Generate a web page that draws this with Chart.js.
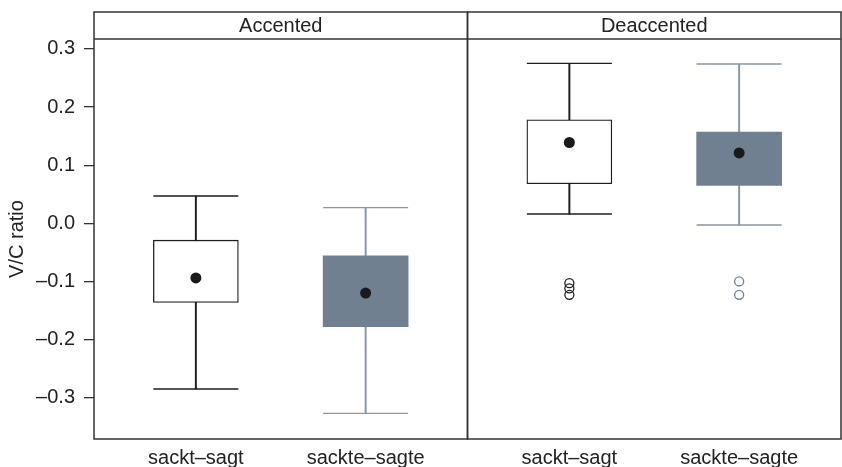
<!DOCTYPE html>
<html>
<head>
<meta charset="utf-8">
<script src="https://cdn.jsdelivr.net/npm/chart.js@4.4.1/dist/chart.umd.min.js"></script>
<style>
  html, body { margin: 0; padding: 0; background: #fff; overflow: hidden; }
  canvas { display: block; }
</style>
</head>
<body>
<canvas id="chart" width="842" height="467"></canvas>
<script>
// Panels and categories
const panels = ["Accented", "Deaccented"];
const categories = ["sackt\u2013sagt", "sackte\u2013sagte"];

// Box statistics, one row per category, one value per panel
const lowerWhisker = [[-0.285, 0.016], [-0.327, -0.003]];
const lowerQuartile = [[-0.136, 0.068], [-0.178, 0.065]];
const medians = [[-0.094, 0.139], [-0.120, 0.121]];
const upperQuartile = [[-0.029, 0.178], [-0.056, 0.157]];
const upperWhisker = [[0.047, 0.275], [0.027, 0.274]];
const outliers = [[[], [-0.103, -0.112, -0.123]], [[], [-0.100, -0.123]]];

const yTicks = [-0.3, -0.2, -0.1, 0.0, 0.1, 0.2, 0.3];

// layout of the x scale: each panel is 11 units wide, boxes at 3 and 8
const panelWidth = 11;
const slotInPanel = [3, 8];
function slotX(panel, cat) { return panel * panelWidth + slotInPanel[cat]; }

const FONT = "'Liberation Sans', Arial, Helvetica, sans-serif";
const FONT_SIZE = 20;
const ink = "#1e1e1e";
const frameColor = "#333333";
const styles = [
    { fill: "#ffffff", border: ink, line: ink, outlier: ink },
    { fill: "#708090", border: "#708090", line: "#8796a6", outlier: "#6c7f95" }
];

const datasets = [];
categories.forEach((cat, c) => {
    const st = styles[c];
    // whisker stems
    datasets.push({
        type: "bar", label: cat + " stem", grouped: false, order: 5,
        data: panels.map((p, i) => ({ x: slotX(i, c), y: [lowerWhisker[c][i], upperWhisker[c][i]] })),
        backgroundColor: st.line, borderWidth: 0, barThickness: 1.3
    });
    // whisker caps
    datasets.push({
        type: "scatter", label: cat + " caps", order: 4, showLine: false,
        data: panels.flatMap((p, i) => [
            { x: slotX(i, c), y: lowerWhisker[c][i] },
            { x: slotX(i, c), y: upperWhisker[c][i] }
        ]),
        pointStyle: "line", pointRadius: 42.5, pointBorderWidth: 1.4,
        borderColor: st.line, pointBorderColor: st.line
    });
    // boxes
    datasets.push({
        type: "bar", label: cat, grouped: false, order: 3,
        data: panels.map((p, i) => ({ x: slotX(i, c), y: [lowerQuartile[c][i], upperQuartile[c][i]] })),
        backgroundColor: st.fill, borderColor: st.border,
        borderWidth: c === 0 ? 1.3 : 0, borderSkipped: false, barThickness: 85
    });
    // medians
    datasets.push({
        type: "scatter", label: cat + " median", order: 1, showLine: false,
        data: panels.map((p, i) => ({ x: slotX(i, c), y: medians[c][i] })),
        pointStyle: "circle", pointRadius: 5.5,
        pointBackgroundColor: "#1a1a1a", pointBorderColor: "#1a1a1a", pointBorderWidth: 0
    });
    // outliers
    datasets.push({
        type: "scatter", label: cat + " outliers", order: 2, showLine: false,
        data: panels.flatMap((p, i) => outliers[c][i].map(v => ({ x: slotX(i, c), y: v }))),
        pointStyle: "circle", pointRadius: 4.5,
        pointBackgroundColor: "rgba(0,0,0,0)", pointBorderColor: st.outlier, pointBorderWidth: 1.3
    });
});

// panel frames and strip labels
const panelFrames = {
    id: "panelFrames",
    afterDraw(chart) {
        const ctx = chart.ctx;
        const area = chart.chartArea;
        const x = chart.scales.x;
        const stripTop = 12;
        ctx.save();
        ctx.strokeStyle = frameColor;
        ctx.lineWidth = 1.5;
        panels.forEach((name, i) => {
            const left = x.getPixelForValue(i * panelWidth);
            const right = x.getPixelForValue((i + 1) * panelWidth);
            ctx.strokeRect(left, stripTop, right - left, area.bottom - stripTop);
            ctx.beginPath();
            ctx.moveTo(left, area.top);
            ctx.lineTo(right, area.top);
            ctx.stroke();
            ctx.fillStyle = "#222";
            ctx.font = FONT_SIZE + "px " + FONT;
            ctx.textAlign = "center";
            ctx.textBaseline = "middle";
            ctx.fillText(name, (left + right) / 2, (stripTop + area.top) / 2 + 1);
        });
        ctx.restore();
    }
};

new Chart(document.getElementById("chart"), {
    type: "bar",
    data: { datasets: datasets },
    options: {
        responsive: false,
        maintainAspectRatio: false,
        animation: false,
        events: [],
        devicePixelRatio: 1,
        layout: { autoPadding: false, padding: { top: 39, right: 1, left: 0, bottom: 0 } },
        plugins: { legend: { display: false }, tooltip: { enabled: false } },
        scales: {
            x: {
                type: "linear", min: 0, max: panels.length * panelWidth, offset: false,
                grid: { display: false, drawTicks: false },
                border: { display: false },
                afterBuildTicks: (scale) => {
                    scale.ticks = panels.flatMap((p, i) => slotInPanel.map((s, c) => ({ value: slotX(i, c) })));
                },
                afterFit: (scale) => {
                    scale.height = 28;
                    scale.paddingLeft = 0; scale.paddingRight = 0;
                },
                ticks: {
                    autoSkip: false, maxRotation: 0, padding: 7, color: "#222",
                    font: { family: FONT, size: FONT_SIZE },
                    callback: (v, i) => categories[i % categories.length]
                }
            },
            y: {
                min: -0.371, max: 0.317,
                grid: { drawOnChartArea: false, tickLength: 10, color: frameColor, lineWidth: 1.3 },
                border: { display: false },
                afterBuildTicks: (scale) => { scale.ticks = yTicks.map(v => ({ value: v })); },
                afterFit: (scale) => {
                    scale.width = 94;
                    scale.paddingTop = 0; scale.paddingBottom = 0;
                },
                ticks: {
                    padding: 9, color: "#222",
                    font: { family: FONT, size: FONT_SIZE },
                    callback: (v) => (Math.abs(v) < 1e-9 ? "0.0" : v.toFixed(1).replace("-", "\u2013"))
                },
                title: {
                    display: true, text: "V/C ratio", color: "#222",
                    font: { family: FONT, size: FONT_SIZE },
                    padding: { top: 5, bottom: 0 }
                }
            }
        }
    },
    plugins: [panelFrames]
});
</script>
</body>
</html>
